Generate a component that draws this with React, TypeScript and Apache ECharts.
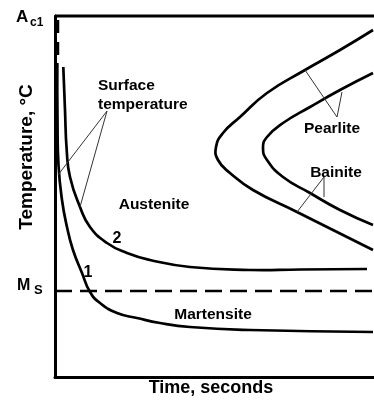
import React, { useEffect, useRef } from "react";
import * as echarts from "echarts";

// Arbitrary units: x = time (0..319), y = temperature (0..361)
const xMax = 319;
const yMax = 361;

const curve1 = [[2.3,314],[2.5,257],[3.5,212],[7,177],[12,150],[18,127],[27,104],[35,85],[45,74],[62,64],[82,59],[105,54],[135,50],[195,47],[318,45]];
const curve2 = [[8.3,310],[10,267],[11.7,227],[15,200],[25,170],[35,150],[52,134],[72,124],[95,117],[135,110],[195,107],[245,107.5],[312,108]];
const pearliteStart = [[318,347],[285,327],[250,307],[212,284],[185,260],[168,244],[161,230],[163,217],[175,204],[198,187],[242,165],[278,147],[318,127]];
const bainiteStart = [[318,304],[285,287],[255,270],[228,254],[212,240],[208,229],[212,217],[228,200],[255,184],[285,167],[318,152]];
const ac1Dash = [[3,357],[3,322]];
const msLevel = 86;
const ac1Level = 361;

const surfaceLeader = [[3,202],[52,266],[25,170]];
const pearliteLeader = [[250,307],[282,260],[287,285]];
const bainiteLeader = [[242,165],[269,200],[269,180]];

const FONT = "Liberation Sans, Arial, sans-serif";

export default function App() {
  const ref = useRef<HTMLDivElement>(null);
  useEffect(() => {
    const chart = echarts.init(ref.current!, null, { renderer: "svg" });
    const curve = (pts: number[][]) => ({
      type: "custom",
      data: [pts[0]],
      clip: false,
      renderItem: (_params: any, api: any) => ({
        type: "polyline",
        shape: { points: pts.map((p) => api.coord(p)), smooth: 0.5 },
        style: { stroke: "#000", lineWidth: 2.7, fill: "none" },
      }),
    });
    const leader = (data: number[][]) => ({
      type: "line", data, smooth: false, symbol: "none", clip: false,
      lineStyle: { color: "#333", width: 1 },
    });
    const txt = (text: string, x: number, y: number, size: number, align = "center", extra: any = {}) => ({
      type: "text", x, y, ...extra,
      style: { text, fill: "#000", font: `bold ${size}px ${FONT}`, align, verticalAlign: "middle" },
    });
    chart.setOption({
      animation: false,
      grid: { left: 55, right: 0, top: 16, bottom: 24 },
      xAxis: {
        type: "value", min: 0, max: xMax,
        axisLine: { show: true, lineStyle: { color: "#000", width: 3 } },
        axisTick: { show: false }, axisLabel: { show: false }, splitLine: { show: false },
      },
      yAxis: {
        type: "value", min: 0, max: yMax,
        axisLine: { show: true, lineStyle: { color: "#000", width: 3 } },
        axisTick: { show: false }, axisLabel: { show: false }, splitLine: { show: false },
      },
      series: [
        { type: "line", data: [[0, ac1Level], [xMax, ac1Level]], symbol: "none", clip: false, lineStyle: { color: "#000", width: 3 } },
        { type: "line", data: [[0, msLevel], [xMax, msLevel]], symbol: "none", clip: false, lineStyle: { color: "#000", width: 2.5, type: [17, 8] } },
        { type: "line", data: ac1Dash, symbol: "none", clip: false, lineStyle: { color: "#000", width: 2.5, type: [13, 9] } },
        curve(curve1),
        curve(curve2),
        curve(pearliteStart),
        curve(bainiteStart),
        leader(surfaceLeader),
        leader(pearliteLeader),
        leader(bainiteLeader),
      ],
      graphic: [
        txt("A", 16, 16, 17, "left"),
        txt("c1", 30, 22, 12, "left"),
        txt("M", 17, 284, 16, "left"),
        txt("S", 34, 289, 13, "left"),
        txt("Temperature, °C", 25, 157, 19, "center", { rotation: Math.PI / 2 }),
        txt("Time, seconds", 211, 387, 18),
        txt("Surface", 98, 84, 15.5, "left"),
        txt("temperature", 98, 103, 15.5, "left"),
        txt("Austenite", 154, 203, 15.5),
        txt("Pearlite", 332, 127, 15.5),
        txt("Bainite", 336, 171, 15.5),
        txt("Martensite", 213, 313, 15.5),
        txt("1", 88, 271, 16),
        txt("2", 117, 237, 16),
      ],
    });
    return () => chart.dispose();
  }, []);
  return <div ref={ref} style={{ position: "fixed", left: 0, top: 0, width: 374, height: 401 }} />;
}
